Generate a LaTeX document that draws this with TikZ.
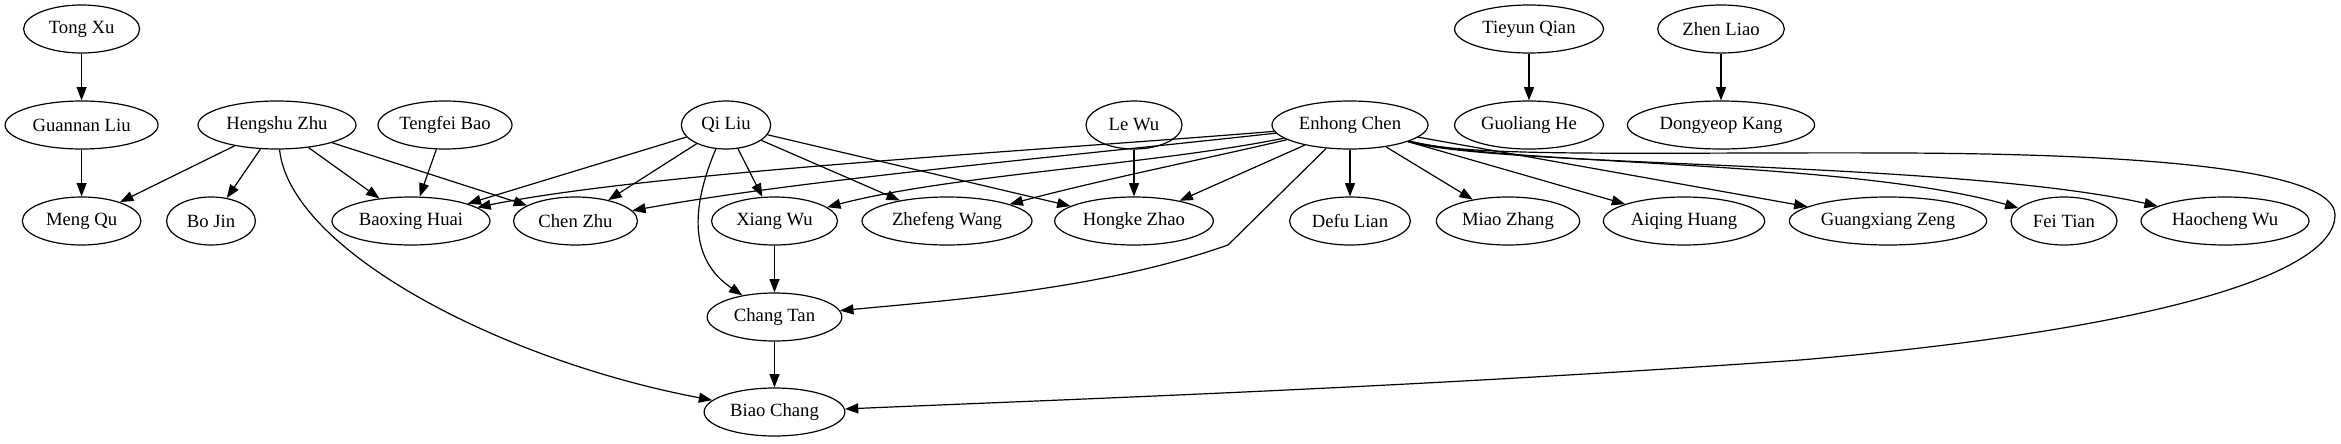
\documentclass[tikz,border=0pt]{standalone}
\usepackage{fontspec}
\setmainfont{Liberation Serif}
\usetikzlibrary{shapes.geometric,arrows.meta}
\begin{document}
\begin{tikzpicture}[x=0.75pt,y=-0.75pt,
  nd/.style={draw, ellipse, minimum height=36pt, inner sep=0pt, line width=0.9pt,
    font=\fontsize{14pt}{16pt}\selectfont},
  ed/.style={-{Triangle[length=10pt,width=7.5pt]}, line width=0.9pt}]
\useasboundingbox (0,0) rectangle (2341,443);
% row 1
\node[nd, minimum width=87pt]    (TongXu)     at (81.6,29)  {Tong Xu};
\node[nd, minimum width=111.6pt] (TieyunQian) at (1529,29)  {Tieyun Qian};
\node[nd, minimum width=95pt]    (ZhenLiao)   at (1721,29)  {Zhen Liao};
% row 2
\node[nd, minimum width=114.75pt] (GuannanLiu) at (81.6,125) {Guannan Liu};
\node[nd, minimum width=118.5pt]  (HengshuZhu) at (277,125)  {Hengshu Zhu};
\node[nd, minimum width=100.5pt]  (TengfeiBao) at (445,125)  {Tengfei Bao};
\node[nd, minimum width=67pt]     (QiLiu)      at (726,125)  {Qi Liu};
\node[nd, minimum width=72pt]     (LeWu)       at (1134,125) {Le Wu};
\node[nd, minimum width=117pt]    (EnhongChen) at (1350,125) {Enhong Chen};
\node[nd, minimum width=111.6pt]  (GuoliangHe) at (1529,125) {Guoliang He};
\node[nd, minimum width=140.4pt]  (DongyeopKang) at (1721,125) {Dongyeop Kang};
% row 3
\node[nd, minimum width=89pt]    (MengQu)      at (81.6,221) {Meng Qu};
\node[nd, minimum width=66.6pt]  (BoJin)       at (211,221)  {Bo Jin};
\node[nd, minimum width=118.5pt] (BaoxingHuai) at (411,221)  {Baoxing Huai};
\node[nd, minimum width=93pt]    (ChenZhu)     at (575.5,221) {Chen Zhu};
\node[nd, minimum width=94.5pt]  (XiangWu)     at (774.5,221) {Xiang Wu};
\node[nd, minimum width=127.5pt] (ZhefengWang) at (947,221)  {Zhefeng Wang};
\node[nd, minimum width=119pt]   (HongkeZhao)  at (1134,221) {Hongke Zhao};
\node[nd, minimum width=90.6pt]  (DefuLian)    at (1350,221) {Defu Lian};
\node[nd, minimum width=107.5pt] (MiaoZhang)   at (1508,221) {Miao Zhang};
\node[nd, minimum width=121pt]   (AiqingHuang) at (1684,221) {Aiqing Huang};
\node[nd, minimum width=148pt]   (GuangxiangZeng) at (1888,221) {Guangxiang Zeng};
\node[nd, minimum width=79.5pt]  (FeiTian)     at (2064,221) {Fei Tian};
\node[nd, minimum width=126pt]   (HaochengWu)  at (2225,221) {Haocheng Wu};
% row 4, 5
\node[nd, minimum width=101pt]   (ChangTan)    at (774.5,317) {Chang Tan};
\node[nd, minimum width=105.6pt] (BiaoChang)   at (774.5,412) {Biao Chang};

% straight edges
\draw[ed] (TongXu) -- (GuannanLiu);
\draw[ed] (GuannanLiu) -- (MengQu);
\draw[ed] (TieyunQian) -- (GuoliangHe);
\draw[ed] (ZhenLiao) -- (DongyeopKang);
\draw[ed] (HengshuZhu) -- (MengQu);
\draw[ed] (HengshuZhu) -- (BoJin);
\draw[ed] (HengshuZhu) -- (BaoxingHuai);
\draw[ed] (HengshuZhu) -- (ChenZhu);
\draw[ed] (TengfeiBao) -- (BaoxingHuai);
\draw[ed] (QiLiu) -- (BaoxingHuai);
\draw[ed] (QiLiu) -- (ChenZhu);
\draw[ed] (QiLiu) -- (XiangWu);
\draw[ed] (QiLiu) -- (ZhefengWang);
\draw[ed] (QiLiu) -- (HongkeZhao);
\draw[ed] (LeWu) -- (HongkeZhao);
\draw[ed] (XiangWu) -- (ChangTan);
\draw[ed] (ChangTan) -- (BiaoChang);
\draw[ed] (EnhongChen) .. controls (1150,165) and (950,175) .. (XiangWu);
\draw[ed] (EnhongChen) .. controls (1200,160) and (1100,180) .. (ZhefengWang);
\draw[ed] (EnhongChen) -- (HongkeZhao);
\draw[ed] (EnhongChen) -- (DefuLian);
\draw[ed] (EnhongChen) -- (MiaoZhang);
\draw[ed] (EnhongChen) -- (AiqingHuang);
\draw[ed] (EnhongChen) -- (GuangxiangZeng);

% curved edges
\draw[ed] (HengshuZhu) .. controls (290,250) and (500,360) .. (BiaoChang);
\draw[ed] (QiLiu) .. controls (690,210) and (690,260) .. (ChangTan);
\draw[ed] (EnhongChen) -- (1228,245)
   .. controls (1100,290) and (950,300) .. (ChangTan);
\draw[ed] (EnhongChen) .. controls (1050,150) and (650,172) .. (BaoxingHuai);
\draw[ed] (EnhongChen) .. controls (1050,158) and (800,180) .. (ChenZhu);
\draw[ed] (EnhongChen) .. controls (1500,165) and (1850,160) .. (FeiTian);
\draw[ed] (EnhongChen) .. controls (1500,168) and (1950,160) .. (HaochengWu);
\draw[ed] (EnhongChen) .. controls (1470,158) and (1650,152) .. (1900,153)
   .. controls (2150,154) and (2335,170) .. (2335,215)
   .. controls (2335,275) and (2150,330) .. (1800,360)
   .. controls (1400,388) and (1100,398) .. (BiaoChang);
\end{tikzpicture}
\end{document}
